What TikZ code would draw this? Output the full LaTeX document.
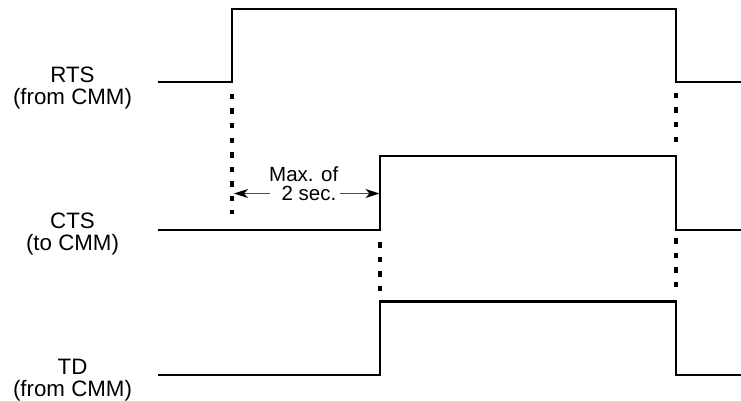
\documentclass[tikz,border=0pt]{standalone}
\usepackage{fontspec}
\setmainfont{Liberation Sans}
\usetikzlibrary{arrows.meta}
\begin{document}
\begin{tikzpicture}[x=1pt,y=-1pt,
  signal/.style={line width=2.4pt, line join=miter},
  guide/.style={line width=3.4pt, dash pattern=on 5.5pt off 9pt},
  lbl/.style={align=center, font=\fontsize{22.3}{22}\selectfont, inner sep=0pt, anchor=base},
  dimlbl/.style={align=right, font=\fontsize{20.5}{19}\selectfont, inner sep=0pt, anchor=base east},
  dim/.style={line width=1.2pt, draw=black!70, -{Stealth[length=14pt,width=9pt,inset=4pt,black]}}]
\useasboundingbox (0,0) rectangle (741,401);
% labels (anchor at baseline of last line)
\node[lbl] (rts) at (72.5,104.5) {RTS\\(from CMM)};
\node[lbl] (cts) at (72.5,250) {CTS\\(to CMM)};
\node[lbl] (td) at (72.5,396) {TD\\(from CMM)};
% signals
\draw[signal] (158,82) -- (232,82) -- (232,9.3) -- (676,9.3) -- (676,82) -- (741,82);
\draw[signal] (158,230) -- (380,230) -- (380,156) -- (676,156) -- (676,230) -- (741,230);
\draw[signal] (158,375) -- (380,375) -- (380,301.5) -- (676,301.5) -- (676,375) -- (741,375);
% guides
\draw[guide] (232,94) -- (232,214);
\draw[guide] (380,242) -- (380,292);
\draw[guide] (676,93) -- (676,145);
\draw[guide] (676,238) -- (676,290);
% dimension
\coordinate (dl) at (234,193.5);
\coordinate (dr) at (379.5,193.5);
\node[dimlbl] (maxt) at (338.5,200.9) {Max. of\\2 sec.\hspace*{0.1em}};
\draw[dim] (270,193.5) -- (dl);
\draw[dim] (340,193.5) -- (dr);
\end{tikzpicture}
\end{document}
